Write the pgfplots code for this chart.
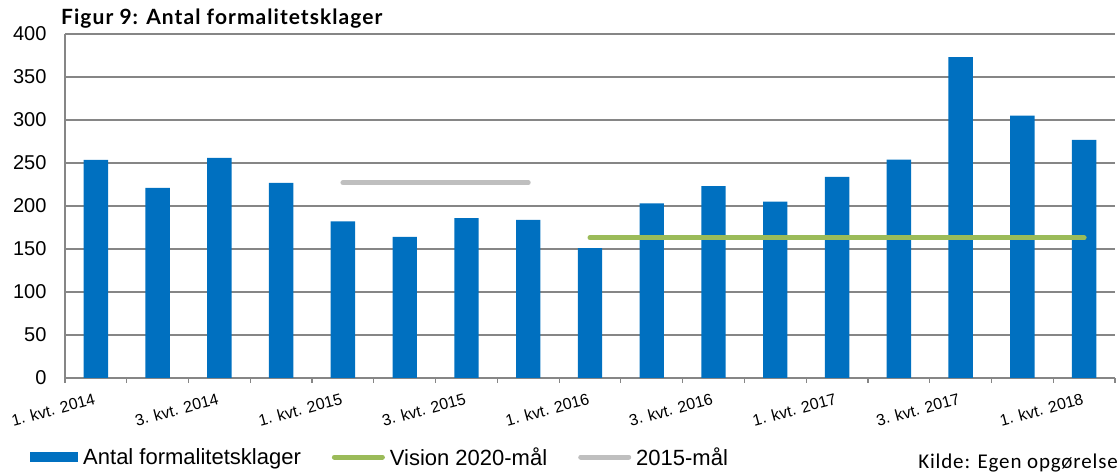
\documentclass[border=0pt]{standalone}
\usepackage{fontspec}
\setmainfont{Liberation Sans}
\newfontfamily\titlefont[LetterSpace=5]{Lato}
\newfontfamily\kildefont[LetterSpace=4]{Carlito}
\usepackage{pgfplots}
\pgfplotsset{compat=1.18}
\definecolor{barblue}{HTML}{0070C0}
\definecolor{visgreen}{HTML}{9BBB59}
\definecolor{goalgray}{HTML}{BFBFBF}
\definecolor{gridgray}{HTML}{868686}

\begin{document}
\begin{tikzpicture}
\useasboundingbox (-65pt,-95pt) rectangle (1055pt,378pt);
\begin{axis}[
  at={(0pt,0pt)}, anchor=south west,
  scale only axis, width=1050pt, height=344pt,
  xmin=-0.5, xmax=16.5, ymin=0, ymax=400,
  axis x line*=bottom, axis y line*=left,
  axis line style={gridgray, line width=1.2pt, -},
  ytick={0,50,...,400},
  ymajorgrids, grid style={gridgray, line width=1.2pt},
  ytick style={draw=none},
  /pgf/number format/assume math mode=true,
  yticklabel style={font=\fontsize{20}{20}\selectfont, anchor=east, xshift=-10pt},
  xtick={-0.5,0.5,...,16.5}, xticklabels={},
  major tick length=5pt, tick align=outside,
  xtick style={draw=gridgray, line width=1.2pt},
  extra x ticks={0,2,...,16},
  extra x tick labels={1. kvt. 2014, 3. kvt. 2014, 1. kvt. 2015, 3. kvt. 2015, 1. kvt. 2016, 3. kvt. 2016, 1. kvt. 2017, 3. kvt. 2017, 1. kvt. 2018},
  extra x tick style={major tick length=0pt, tick style={draw=none},
    xticklabel style={font=\fontsize{16}{16}\selectfont, rotate=15, anchor=north east, xshift=-3pt, yshift=-10pt}},
  legend style={at={(axis description cs:-0.0333,-0.2297)}, anchor=west, draw=none, fill=none, inner sep=0pt,
    font=\fontsize{22}{22}\selectfont,
    /tikz/every odd column/.append style={column sep=3pt},
    /tikz/every even column/.append style={column sep=29pt}},
  legend columns=3,
]
\addplot[ybar, bar width=0.395, fill=barblue, draw=none,
  legend image code/.code={\fill[barblue] (0pt,-5pt) rectangle (48pt,5pt);}]
  coordinates {(0,253.5) (1,221) (2,256) (3,227) (4,182) (5,164) (6,186) (7,184) (8,151) (9,203) (10,223) (11,205) (12,234) (13,254) (14,373) (15,305) (16,277)};
\addlegendentry{Antal formalitetsklager}
\addplot[visgreen, line width=5pt, line cap=round,
  legend image code/.code={\draw[visgreen, line width=5pt, line cap=round] (2.5pt,0pt) -- (50.5pt,0pt);}]
  coordinates {(8,163) (16,163)};
\addlegendentry{Vision 2020-mål}
\addplot[goalgray, line width=5pt, line cap=round,
  legend image code/.code={\draw[goalgray, line width=5pt, line cap=round] (2.5pt,0pt) -- (50.5pt,0pt);}]
  coordinates {(4,227) (7,227)};
\addlegendentry{2015-mål}
\end{axis}
\node[anchor=base west, inner sep=0pt, font=\titlefont\bfseries\fontsize{21}{21}\selectfont] at (-4pt,353pt) {Figur 9: Antal formalitetsklager};
\node[anchor=base east, inner sep=0pt, font=\kildefont\fontsize{21}{21}\selectfont] at (1053pt,-91pt) {Kilde: Egen opgørelse};
\end{tikzpicture}
\end{document}
